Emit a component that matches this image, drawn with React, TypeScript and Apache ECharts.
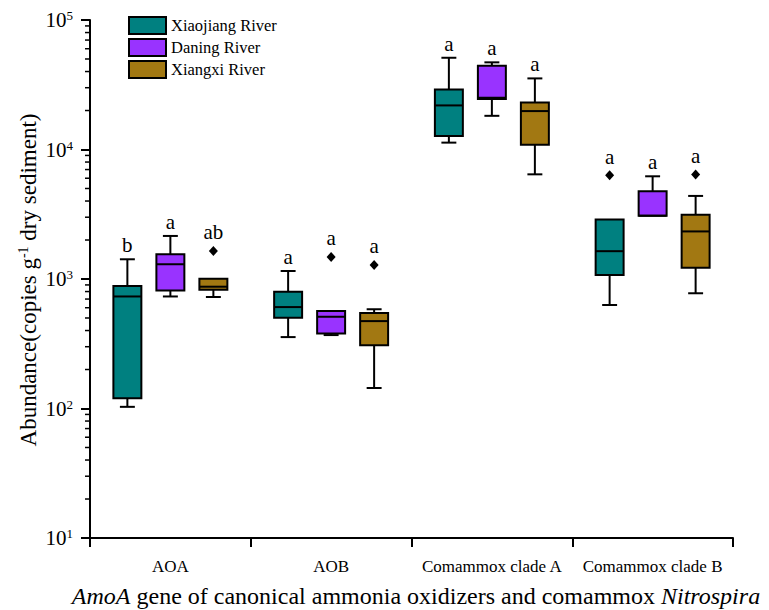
import React, { useEffect, useRef } from 'react';
import * as echarts from 'echarts';

const FONT = "'Liberation Serif', 'Times New Roman', serif";

const categories = ['AOA', 'AOB', 'Comammox clade A', 'Comammox clade B'];
const seriesNames = ['Xiaojiang River', 'Daning River', 'Xiangxi River'];
const seriesColors = ['#008080', '#9933FF', '#A27812'];

// per category: [min, Q1, median, Q3, max]
const xiaojiangStats = [
  [103, 120, 733, 883, 1420],
  [356, 502, 607, 798, 1153],
  [11300, 12700, 21900, 29100, 51100],
  [630, 1075, 1640, 2880, 2880],
];
const daningStats = [
  [733, 815, 1300, 1553, 2150],
  [369, 380, 511, 565, 565],
  [18200, 24500, 25100, 44300, 47100],
  [3080, 3080, 3080, 4750, 6210],
];
const xiangxiStats = [
  [726, 825, 872, 1005, 1005],
  [144, 308, 473, 546, 584],
  [6430, 10900, 19800, 23100, 35400],
  [776, 1222, 2330, 3140, 4380],
];

const xiaojiangOutliers = [null, null, null, 6320];
const daningOutliers = [null, 1480, null, null];
const xiangxiOutliers = [1648, 1283, null, 6400];

const xiaojiangLetters = ['b', 'a', 'a', 'a'];
const daningLetters = ['a', 'a', 'a', 'a'];
const xiangxiLetters = ['ab', 'a', 'a', 'a'];

const yMin = 10;
const yMax = 100000;
const minorMultipliers = [2, 3, 4, 5, 6, 7, 8, 9];
const minorDecades = [10, 100, 1000, 10000];

const allStats = [xiaojiangStats, daningStats, xiangxiStats];
const allOutliers = [xiaojiangOutliers, daningOutliers, xiangxiOutliers];
const allLetters = [xiaojiangLetters, daningLetters, xiangxiLetters];
const groupOffsets = [-0.2675, 0, 0.2675];

export default function App() {
  const ref = useRef<HTMLDivElement>(null);

  useEffect(() => {
    if (!ref.current) return;
    const chart = echarts.init(ref.current, undefined, { renderer: 'svg' });

    const minorTickData: number[][] = [];
    minorDecades.forEach((d) => minorMultipliers.forEach((m) => minorTickData.push([0, m * d])));

    const boxSeries = seriesNames.map((name, si) => {
      const data = categories.map((_, i) => [
        i,
        ...allStats[si][i],
        allOutliers[si][i] == null ? '-' : allOutliers[si][i],
      ]);
      return {
        type: 'custom',
        name,
        clip: false,
        itemStyle: { color: seriesColors[si] },
        encode: { x: 0, y: [1, 2, 3, 4, 5] },
        data,
        renderItem: (params: any, api: any) => {
          const cat = api.value(0);
          const mn = api.value(1);
          const q1 = api.value(2);
          const md = api.value(3);
          const q3 = api.value(4);
          const mx = api.value(5);
          const out = api.value(6);
          const band = api.size([1, 0])[0];
          const cx = api.coord([cat, md])[0] + groupOffsets[si] * band;
          const bw = band * 0.174;
          const cw = band * 0.093;
          const Y = (v: number) => api.coord([cat, v])[1];
          const ls = { stroke: '#000', lineWidth: 2 };
          const children: any[] = [];
          if (mx > q3) {
            children.push({ type: 'line', shape: { x1: cx, y1: Y(q3), x2: cx, y2: Y(mx) }, style: ls });
            children.push({ type: 'line', shape: { x1: cx - cw / 2, y1: Y(mx), x2: cx + cw / 2, y2: Y(mx) }, style: ls });
          }
          if (mn < q1) {
            children.push({ type: 'line', shape: { x1: cx, y1: Y(q1), x2: cx, y2: Y(mn) }, style: ls });
            children.push({ type: 'line', shape: { x1: cx - cw / 2, y1: Y(mn), x2: cx + cw / 2, y2: Y(mn) }, style: ls });
          }
          children.push({
            type: 'rect',
            shape: { x: cx - bw / 2, y: Y(q3), width: bw, height: Y(q1) - Y(q3) },
            style: { fill: seriesColors[si], stroke: '#000', lineWidth: 2 },
          });
          children.push({ type: 'line', shape: { x1: cx - bw / 2, y1: Y(md), x2: cx + bw / 2, y2: Y(md) }, style: ls });
          let labelY = Y(mx) - 3.5;
          if (!isNaN(out)) {
            const oy = Y(out);
            children.push({
              type: 'polygon',
              shape: { points: [[cx, oy - 5], [cx + 4.5, oy], [cx, oy + 5], [cx - 4.5, oy]] },
              style: { fill: '#000' },
            });
            labelY = Math.min(labelY, oy - 8);
          }
          children.push({
            type: 'text',
            x: cx,
            y: labelY,
            style: {
              text: allLetters[si][params.dataIndex],
              fontFamily: FONT,
              fontSize: 21,
              fill: '#000',
              align: 'center',
              verticalAlign: 'bottom',
            },
          });
          return { type: 'group', children };
        },
      };
    });

    const option: any = {
      animation: false,
      backgroundColor: '#fff',
      textStyle: { fontFamily: FONT },
      grid: { left: 90, right: 36, top: 20, bottom: 72, containLabel: false },
      legend: {
        data: seriesNames,
        orient: 'vertical',
        left: 128,
        top: 16,
        padding: 0,
        icon: 'rect',
        itemWidth: 37,
        itemHeight: 17,
        itemGap: 3,
        itemStyle: { borderColor: '#000', borderWidth: 2 },
        textStyle: { fontFamily: FONT, fontSize: 16.5, color: '#000', lineHeight: 18 },
      },
      xAxis: {
        type: 'category',
        data: categories,
        axisLine: { lineStyle: { color: '#000', width: 2 } },
        axisTick: { show: true, length: 9, alignWithLabel: false, interval: 0, lineStyle: { color: '#000', width: 2 } },
        axisLabel: { fontFamily: FONT, fontSize: 17, color: '#000', margin: 20, interval: 0 },
        splitLine: { show: false },
      },
      yAxis: {
        type: 'log',
        logBase: 10,
        min: yMin,
        max: yMax,
        splitNumber: 4,
        axisLine: { show: true, lineStyle: { color: '#000', width: 2 } },
        axisTick: { show: true, length: 9, lineStyle: { color: '#000', width: 2 } },
        splitLine: { show: false },
        axisLabel: {
          margin: 17,
          formatter: (v: number) => `{b|10}{s|${Math.round(Math.log10(v))}}`,
          rich: {
            b: { fontFamily: FONT, fontSize: 21, color: '#000', lineHeight: 22 },
            s: { fontFamily: FONT, fontSize: 13, color: '#000', verticalAlign: 'top', lineHeight: 13 },
          },
        },
      },
      graphic: [
        {
          type: 'text',
          x: 28,
          y: 280,
          rotation: Math.PI / 2,
          style: {
            text: '{n|Abundance(copies g}{s|-1}{n| dry sediment)}',
            fontFamily: FONT,
            rich: {
              n: { fontFamily: FONT, fontSize: 23, fill: '#000', lineHeight: 24 },
              s: { fontFamily: FONT, fontSize: 14, fill: '#000', verticalAlign: 'top', lineHeight: 14 },
            },
            align: 'center',
            verticalAlign: 'middle',
          },
        },
        {
          type: 'text',
          x: 416,
          y: 596,
          style: {
            text: '{i|AmoA}{n| gene of canonical ammonia oxidizers and comammox }{i|Nitrospira}',
            fontFamily: FONT,
            rich: {
              n: { fontFamily: FONT, fontSize: 24, fill: '#000' },
              i: { fontFamily: FONT, fontSize: 24, fill: '#000', fontStyle: 'italic' },
            },
            align: 'center',
            verticalAlign: 'middle',
          },
        },
      ],
      series: [
        {
          type: 'custom',
          silent: true,
          clip: false,
          encode: { x: 0, y: 1 },
          data: minorTickData,
          renderItem: (params: any, api: any) => {
            const yy = api.coord([0, api.value(1)])[1];
            const x0 = params.coordSys.x;
            return {
              type: 'line',
              shape: { x1: x0 - 5, y1: yy, x2: x0, y2: yy },
              style: { stroke: '#000', lineWidth: 1.5 },
            };
          },
        },
        ...boxSeries,
      ],
    };

    chart.setOption(option);
    return () => chart.dispose();
  }, []);

  return (
    <div
      ref={ref}
      style={{ position: 'fixed', left: 0, top: 0, width: 769, height: 610, background: '#fff' }}
    />
  );
}
